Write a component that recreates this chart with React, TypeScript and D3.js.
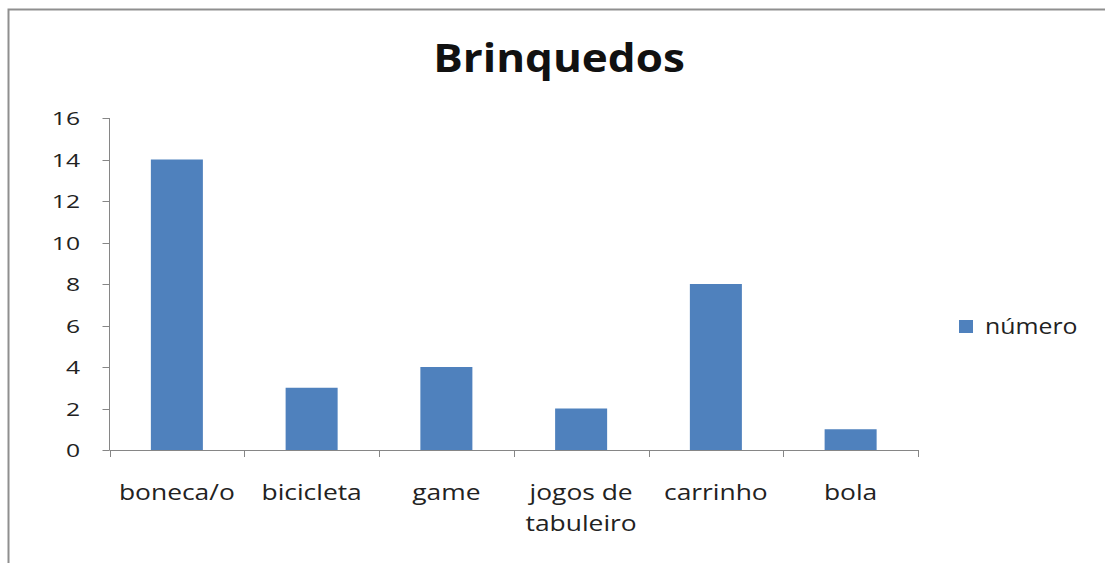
import * as d3 from "d3";
import { useEffect, useRef } from "react";

const title = "Brinquedos";
const seriesName = "número";
const categories = ["boneca/o", "bicicleta", "game", "jogos de tabuleiro", "carrinho", "bola"];
const values = [14, 3, 4, 2, 8, 1];
const yTicks = [0, 2, 4, 6, 8, 10, 12, 14, 16];

const svgWidth = 1105,
  svgHeight = 563;
const plot = { left: 109.5, right: 918, top: 118, bottom: 450 };
const barColor = "#4f81bd";
const axisColor = "#868686";
const textColor = "#222";
const font = "'Open Sans', 'DejaVu Sans', sans-serif";
const stretch = 1.2; // the source picture is a bit wider than tall

// split a label into lines of at most ~9 characters
const wrap = (label: string) => {
  const lines: string[] = [];
  let cur = "";
  label.split(" ").forEach((w) => {
    const next = cur ? cur + " " + w : w;
    if (next.length > 9 && cur) {
      lines.push(cur);
      cur = w;
    } else {
      cur = next;
    }
  });
  if (cur) lines.push(cur);
  return lines;
};

export default function App() {
  const svgRef = useRef<SVGSVGElement>(null);

  useEffect(() => {
    const svg = d3.select(svgRef.current);
    svg.selectAll("*").remove();

    const x = d3
      .scaleBand()
      .domain(categories)
      .range([plot.left, plot.right])
      .paddingInner(0.614)
      .paddingOuter(0.307);
    const y = d3.scaleLinear().domain([0, 16]).range([plot.bottom, plot.top]);

    // outer border (only left and top visible in the picture)
    svg
      .append("path")
      .attr("d", `M8.5,${svgHeight} V9.5 H${svgWidth}`)
      .attr("fill", "none")
      .attr("stroke", "#8f8f8f")
      .attr("stroke-width", 2);

    // title
    svg
      .append("g")
      .attr("transform", `translate(559,72) scale(1.1,1)`)
      .append("text")
      .attr("text-anchor", "middle")
      .attr("font-family", font)
      .attr("font-weight", "bold")
      .attr("font-size", 40)
      .attr("fill", "#111")
      .text(title);

    // bars
    svg
      .append("g")
      .selectAll("rect")
      .data(values)
      .join("rect")
      .attr("x", (d, i) => x(categories[i])!)
      .attr("y", (d) => y(d))
      .attr("width", x.bandwidth())
      .attr("height", (d) => y(0) - y(d))
      .attr("fill", barColor);

    // y axis
    const yAxis = svg.append("g").attr("class", "yAxis");
    yAxis
      .append("line")
      .attr("x1", plot.left)
      .attr("x2", plot.left)
      .attr("y1", y(16))
      .attr("y2", y(0))
      .attr("stroke", axisColor);
    yAxis
      .selectAll("line.tick")
      .data(yTicks)
      .join("line")
      .attr("class", "tick")
      .attr("x1", plot.left - 7)
      .attr("x2", plot.left)
      .attr("y1", (d) => Math.round(y(d)) + 0.5)
      .attr("y2", (d) => Math.round(y(d)) + 0.5)
      .attr("stroke", axisColor);
    yAxis
      .selectAll("g.label")
      .data(yTicks)
      .join("g")
      .attr("class", "label")
      .attr("transform", (d) => `translate(80,${y(d) + 7}) scale(1.3,1)`)
      .append("text")
      .attr("text-anchor", "end")
      .attr("font-family", font)
      .attr("font-size", 19)
      .attr("fill", textColor)
      .text((d) => d);

    // x axis
    const xAxis = svg.append("g").attr("class", "xAxis");
    xAxis
      .append("line")
      .attr("x1", plot.left)
      .attr("x2", plot.right)
      .attr("y1", y(0) + 0.5)
      .attr("y2", y(0) + 0.5)
      .attr("stroke", axisColor);
    xAxis
      .selectAll("line.tick")
      .data(d3.range(categories.length + 1))
      .join("line")
      .attr("class", "tick")
      .attr("x1", (i) => Math.round(plot.left + i * x.step()) + 0.5)
      .attr("x2", (i) => Math.round(plot.left + i * x.step()) + 0.5)
      .attr("y1", y(0))
      .attr("y2", y(0) + 7)
      .attr("stroke", axisColor);
    const labels = xAxis
      .selectAll("g.label")
      .data(categories)
      .join("g")
      .attr("class", "label")
      .attr("transform", (d) => `translate(${x(d)! + x.bandwidth() / 2},500) scale(${stretch},1)`)
      .append("text")
      .attr("text-anchor", "middle")
      .attr("font-family", font)
      .attr("font-size", 22)
      .attr("fill", textColor);
    labels
      .selectAll("tspan")
      .data((d) => wrap(d))
      .join("tspan")
      .attr("x", 0)
      .attr("dy", (d, i) => (i === 0 ? 0 : 31))
      .text((d) => d);

    // legend
    const legend = svg.append("g").attr("transform", "translate(959,320)");
    legend.append("rect").attr("width", 14).attr("height", 13).attr("fill", barColor);
    legend
      .append("g")
      .attr("transform", `translate(26,14) scale(1.13,1)`)
      .append("text")
      .attr("font-family", font)
      .attr("font-size", 22)
      .attr("fill", textColor)
      .text(seriesName);
  }, []);

  return (
    <svg
      ref={svgRef}
      width={svgWidth}
      height={svgHeight}
      style={{ position: "absolute", left: 0, top: 0, background: "#fff" }}
    ></svg>
  );
}
